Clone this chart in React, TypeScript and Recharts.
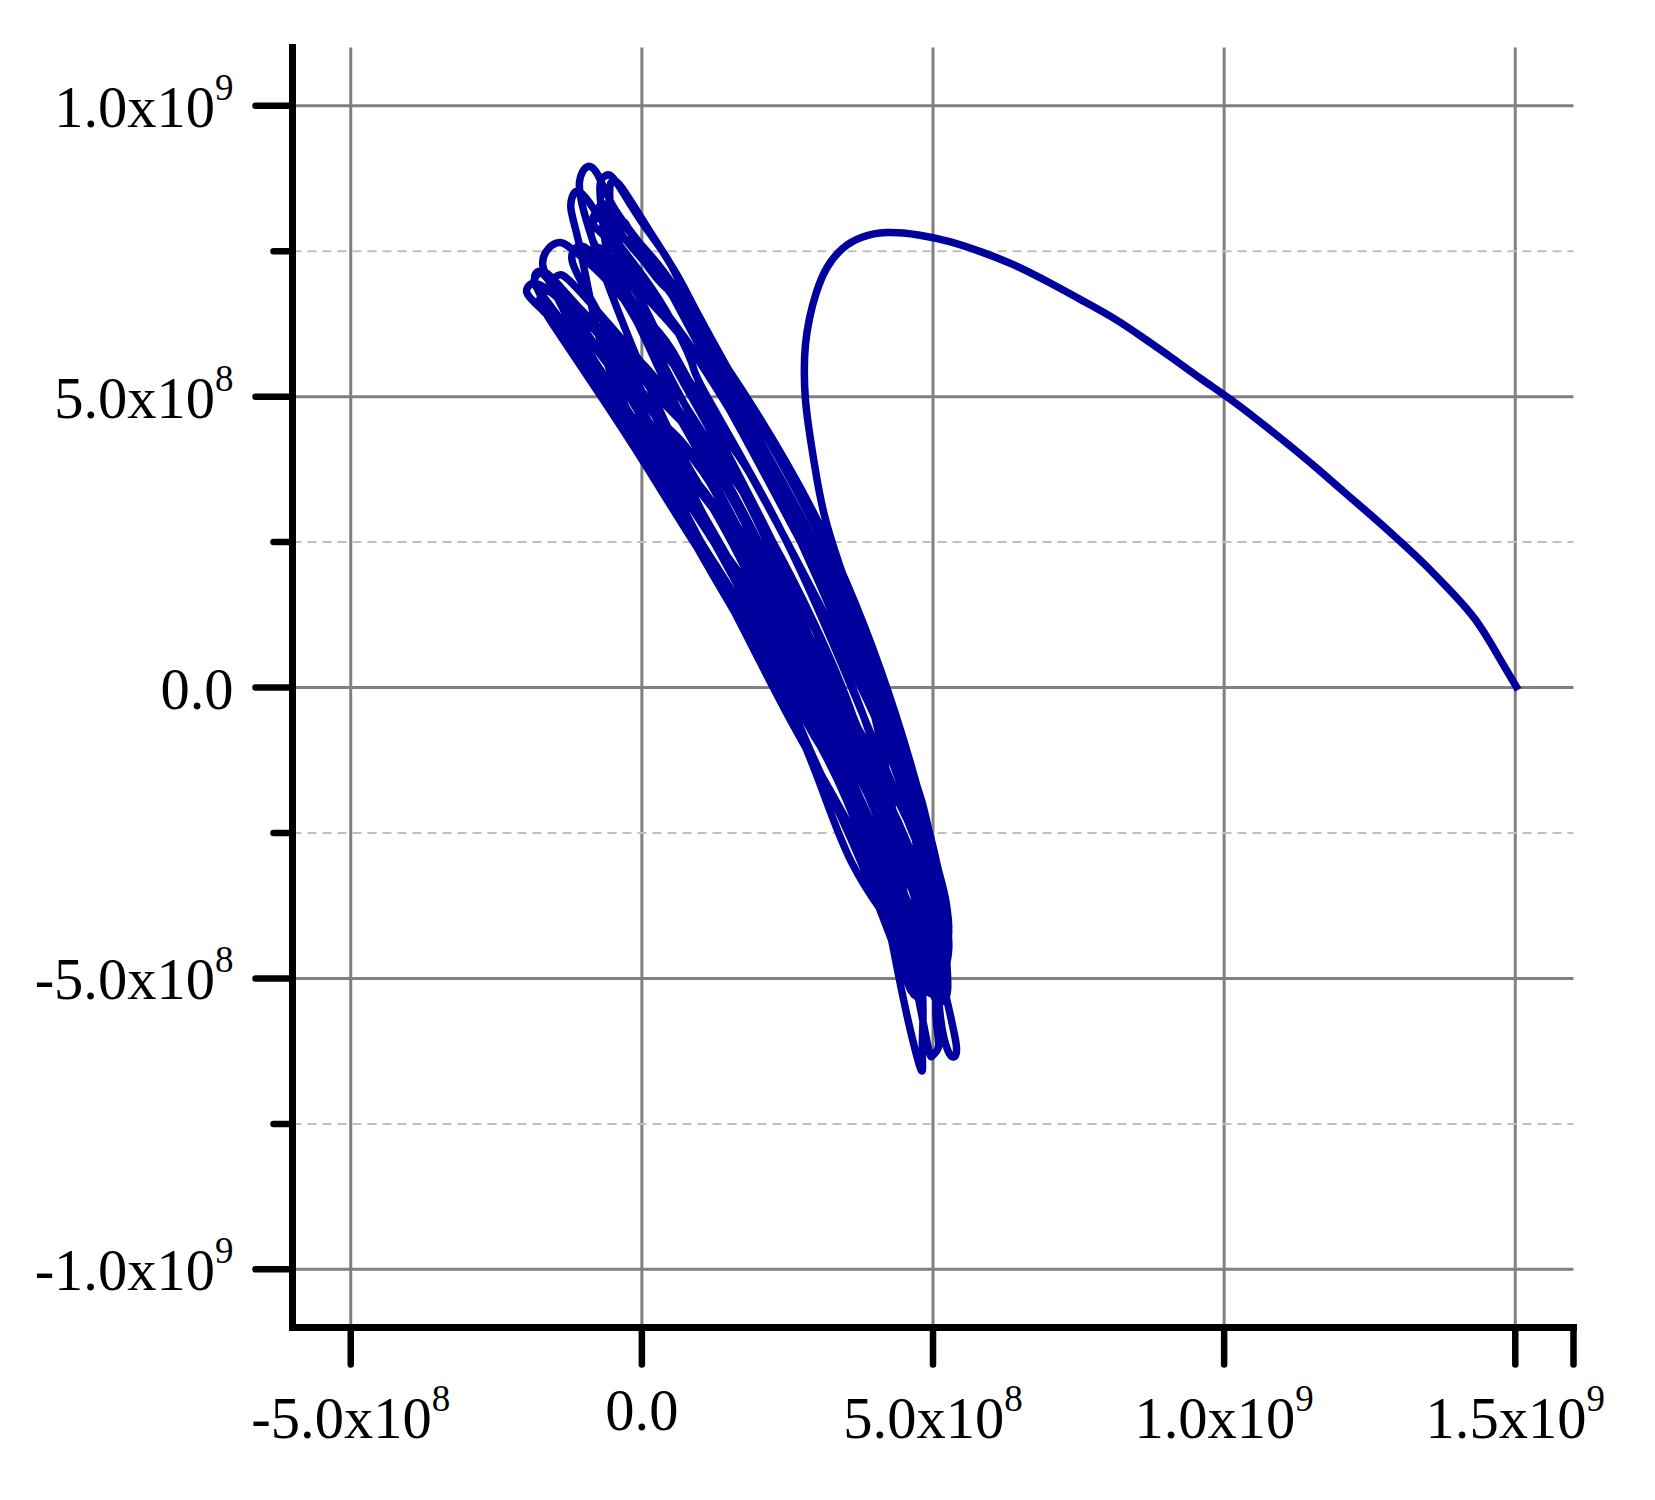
import React from "react";
import { ComposedChart, Line, XAxis, YAxis, CartesianGrid } from "recharts";

// All path values are in millions (x, y)
const approach: number[][] = [[1505,-4],[1472,52],[1432,116],[1385,170],[1340,216],[1295,258],[1250,298],[1205,337],[1158,378],[1110,418],[1060,458],[1010,496],[960,531],[910,567],[860,602],[810,635],[755,666],[698,697],[640,726],[585,748],[530,766],[475,778],[420,782],[378,774],[345,755],[318,722],[300,680],[288,635],[281,590],[279,545],[281,494],[288,437],[298,374],[314,294],[339,212],[357,162],[376,112],[394,58],[412,4],[431,-48],[450,-100],[466,-150],[482,-200],[494,-250],[506,-300],[522,-390],[527,-450],[518,-490],[500,-480]];
const cycle1: number[][] = [[462,-380],[410,-270],[316,-60],[225,95],[130,240],[30,390],[-62,510],[-135,610],[-190,668],[-196,688],[-175,692],[-110,640],[-20,560],[60,470],[178,250],[330,-30],[440,-230],[495,-400],[512,-560],[526,-625],[535,-635],[540,-615]];
const cycle2: number[][] = [[520,-520],[478,-350],[395,-130],[270,60],[140,235],[10,420],[-95,560],[-160,650],[-184,700],[-176,716],[-155,705],[-105,650],[-40,590],[40,510],[201,250],[355,-40],[470,-260],[505,-430],[505,-560],[510,-615],[500,-632],[490,-610]];
const cycle3: number[][] = [[460,-460],[405,-280],[290,-50],[190,110],[100,250],[-20,440],[-110,600],[-150,680],[-170,725],[-160,755],[-140,765],[-118,752],[-70,710],[-10,640],[50,560],[125,470],[260,230],[400,-50],[495,-290],[520,-430],[525,-520],[510,-540],[490,-500]];
const cycle4: number[][] = [[440,-350],[345,-130],[220,60],[110,220],[35,360],[-45,520],[-85,650],[-109,768],[-122,825],[-114,852],[-95,840],[-60,790],[-15,730],[40,650],[85,560],[112,500],[249,250],[381,-50],[485,-300],[515,-420],[510,-500],[490,-510],[470,-470]];
const cycle5: number[][] = [[417,-300],[300,-50],[154,250],[58,420],[-30,620],[-75,740],[-100,820],[-107,870],[-94,895],[-75,880],[-45,820],[10,745],[65,650],[130,530],[165,470],[273,250],[400,-50],[491,-300],[522,-420],[520,-500],[500,-525],[480,-490]];
const cycle6: number[][] = [[432,-300],[326,-50],[178,250],[85,430],[10,590],[-50,720],[-66,790],[-72,860],[-62,880],[-45,870],[0,800],[45,735],[85,655],[130,575],[192,480],[320,250],[437,-50],[506,-300],[527,-420],[515,-470],[495,-440]];
const cycle7: number[][] = [[447,-300],[344,-50],[201,250],[110,420],[40,550],[-30,680],[-85,770],[-78,808],[-62,812],[-20,760],[40,690],[90,620],[110,590],[165,490],[296,250],[418,-50],[500,-320],[520,-430],[500,-470],[480,-430]];
const cycle8: number[][] = [[402,-300],[289,-50],[130,250],[31,450],[-50,600],[-100,690],[-120,735],[-112,757],[-90,750],[-40,690],[30,610],[85,520],[225,250],[363,-50],[462,-300],[500,-420],[490,-480],[470,-460]];
const cycle9: number[][] = [[360,-300],[258,-50],[90,250],[4,430],[-80,560],[-135,660],[-155,695],[-145,708],[-125,700],[-70,640],[-10,570],[58,480],[178,280],[326,-50],[447,-300],[490,-430],[485,-520],[470,-530],[455,-490]];
const cycle10: number[][] = [[417,-300],[363,-50],[225,250],[130,400],[30,560],[-40,680],[-90,735],[-82,755],[-60,745],[-10,680],[31,600],[85,500],[201,280],[344,-50],[432,-300],[478,-480],[482,-600],[482,-650],[474,-640]];
const cycle11: number[][] = [[440,-490],[388,-300],[252,-50],[95,250],[-35,450],[-100,570],[-160,660],[-185,695],[-180,710],[-160,700],[-95,610],[-22,500],[107,280],[270,-20],[402,-250],[470,-340],[500,-450],[495,-510],[478,-500]];
const cycle12: number[][] = [[447,-330],[400,-50],[296,250],[200,400],[85,580],[0,680],[-60,770],[-85,800],[-70,830],[-50,815],[0,760],[55,690],[100,610],[150,520],[285,270],[418,-30],[498,-280],[527,-410],[512,-480],[495,-460]];
const cycle13: number[][] = [[458,-320],[381,-50],[249,250],[165,400],[85,510],[0,640],[-40,720],[-55,840],[-50,870],[-35,860],[10,790],[60,710],[100,635],[192,470],[315,240],[430,-50],[500,-280],[525,-390],[515,-440],[500,-430]];
const cycle14: number[][] = [[476,-300],[418,-50],[273,250],[138,500],[60,620],[0,700],[-45,780],[-30,800],[0,740],[50,680],[90,640],[178,460],[296,230],[410,-60],[485,-300],[510,-400]];
const cycle15: number[][] = [[525,-445],[508,-480],[480,-450],[395,-310],[285,-110],[208,60],[105,225],[-5,400],[-90,530],[-150,620],[-175,665],[-165,680],[-145,670],[-85,590],[-10,490],[60,390],[150,270],[300,-50],[410,-280],[470,-440],[478,-510],[465,-520],[450,-490]];
const cycle16: number[][] = [[372,-290],[290,-110],[205,80],[95,260],[-10,430],[-90,560],[-115,620],[-108,640],[-90,625],[-40,560],[20,470],[100,380],[240,120],[375,-130],[470,-350],[510,-450],[505,-495],[490,-490]];
const cycle17: number[][] = [[430,-360],[335,-100],[215,110],[110,290],[20,440],[-40,540],[-55,590],[-45,605],[-30,590],[10,520],[75,450],[155,330],[290,60],[410,-170],[490,-370],[515,-465],[500,-505],[480,-490]];
const cycle18: number[][] = [[420,-370],[350,-190],[265,-30],[150,150],[55,330],[-5,470],[-15,500],[-5,510],[10,495],[55,430],[105,370],[210,190],[345,-70],[445,-280],[500,-400],[525,-440],[515,-480],[495,-470]];
const cycle19: number[][] = [[440,-370],[385,-220],[300,-90],[220,60],[130,200],[55,340],[40,370],[50,380],[70,370],[150,270],[260,100],[375,-110],[460,-290],[510,-400],[522,-460],[505,-490]];
const cycle20: number[][] = [[460,-400],[420,-260],[360,-130],[280,20],[200,180],[150,270],[140,300],[155,290],[210,190],[300,-20],[420,-230],[495,-380],[515,-430]];

const xMajorTicks = [-5e8, 0, 5e8, 1e9, 1.5e9];
const xEndTick = 1.6e9;
const yMajorTicks = [-1e9, -5e8, 0, 5e8, 1e9];
const yMinorTicks = [-7.5e8, -2.5e8, 2.5e8, 7.5e8];
const majorLabels: Record<string, [string, string]> = {
  "-1000000000": ["-1.0x10", "9"],
  "-500000000": ["-5.0x10", "8"],
  "0": ["0.0", ""],
  "500000000": ["5.0x10", "8"],
  "1000000000": ["1.0x10", "9"],
  "1500000000": ["1.5x10", "9"],
};

const path = [approach, cycle1, cycle2, cycle3, cycle4, cycle5, cycle6, cycle7, cycle8, cycle9, cycle10, cycle11, cycle12, cycle13, cycle14, cycle15, cycle16, cycle17, cycle18, cycle19, cycle20].flat();
const rows = path.map(([x, y]) => ({ x: x * 1e6, y: y * 1e6 }));

const FONT = "'Liberation Serif', 'Times New Roman', serif";

function Label({ x, y, anchor, value }: any) {
  const l = majorLabels[String(value)];
  if (!l) return null;
  return (
    <text x={x} y={y} textAnchor={anchor} fontFamily={FONT} fontSize={58.5} fill="#000">
      {l[0]}
      {l[1] ? <tspan fontSize={37} dy={-27}>{l[1]}</tspan> : null}
    </text>
  );
}

function YTick(props: any) {
  const { x, y, payload } = props;
  const major = majorLabels[String(payload.value)] !== undefined;
  return (
    <g>
      <line x1={x} x2={x - (major ? 37 : 19)} y1={y} y2={y} stroke="#000" strokeWidth={6.5} strokeLinecap="round" />
      <Label x={x - 59} y={y + 21} anchor="end" value={payload.value} />
    </g>
  );
}

function XTick(props: any) {
  const { x, y, payload } = props;
  const l = majorLabels[String(payload.value)];
  return (
    <g>
      <line x1={x} x2={x} y1={y} y2={y + 37} stroke="#000" strokeWidth={6.5} strokeLinecap="round" />
      <Label x={x} y={y + (l && !l[1] ? 102 : 110)} anchor="middle" value={payload.value} />
    </g>
  );
}

export default function App() {
  return (
    <div style={{ position: "absolute", left: 0, top: 0, width: 1655, height: 1500, background: "#fff", overflow: "hidden" }}>
      <ComposedChart width={1655} height={1500} data={rows} margin={{ top: 47.6, right: 81.5, bottom: 0, left: 0 }}>
        <CartesianGrid horizontal={false} verticalValues={xMajorTicks} stroke="#808080" strokeWidth={3} />
        <CartesianGrid vertical={false} horizontalValues={yMajorTicks} stroke="#808080" strokeWidth={3} />
        <CartesianGrid vertical={false} horizontalValues={yMinorTicks} stroke="#c0c0c0" strokeWidth={2} strokeDasharray="9 6" />
        <XAxis
          dataKey="x"
          type="number"
          domain={[-6e8, 1.6e9]}
          ticks={[...xMajorTicks, xEndTick]}
          interval={0}
          height={172.5}
          tickSize={0}
          tickMargin={0}
          tick={<XTick />}
          axisLine={{ stroke: "#000", strokeWidth: 7, strokeLinecap: "square" }}
          allowDataOverflow
        />
        <YAxis
          dataKey="y"
          type="number"
          domain={[-1.1e9, 1.1e9]}
          ticks={[...yMajorTicks, ...yMinorTicks].sort((a, b) => a - b)}
          interval={0}
          width={292.5}
          tickSize={0}
          tickMargin={0}
          tick={<YTick />}
          axisLine={{ stroke: "#000", strokeWidth: 7, strokeLinecap: "square" }}
          allowDataOverflow
        />
        <Line dataKey="y" type="natural" stroke="#00009c" strokeWidth={7.5} dot={false} activeDot={false} isAnimationActive={false} strokeLinejoin="round" />
      </ComposedChart>
    </div>
  );
}
